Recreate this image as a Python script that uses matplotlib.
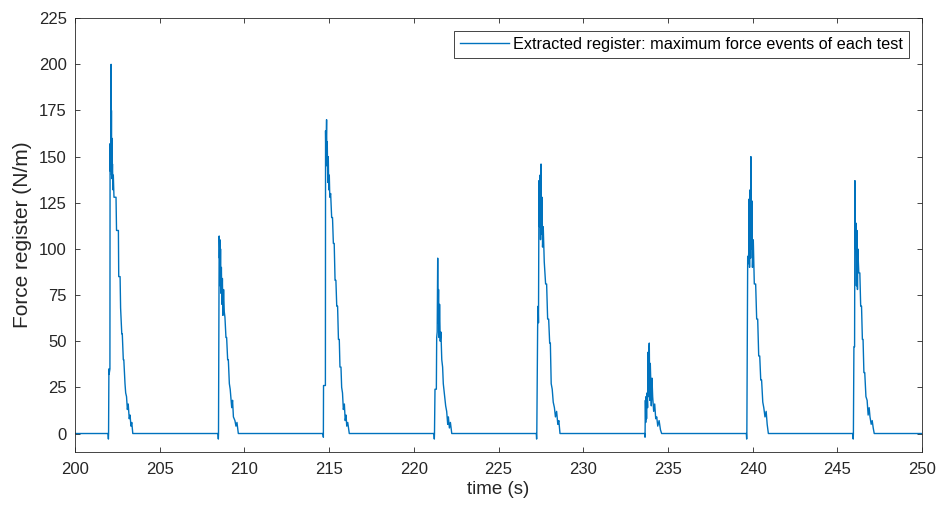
import matplotlib
matplotlib.use("Agg")
import matplotlib.pyplot as plt

plt.rcParams['font.family'] = ['Liberation Sans', 'DejaVu Sans']

# each event: times (s) and force register (N/m)
ev1_t = [201.95, 201.97, 201.98, 202.00, 202.01, 202.06, 202.07, 202.09, 202.10, 202.12,
         202.13, 202.14, 202.15, 202.16, 202.17, 202.19, 202.21, 202.24, 202.26, 202.30,
         202.42, 202.45, 202.56, 202.58, 202.66, 202.69, 202.76, 202.79, 202.85, 202.88,
         202.95, 202.99, 203.04, 203.09, 203.14, 203.20, 203.25, 203.30, 203.35, 203.41]
ev1_f = [0, -3, 0, 35, 32, 35, 157, 142, 157, 150,
         200, 150, 175, 140, 160, 138, 146, 132, 140, 128,
         128, 110, 110, 85, 85, 68, 54, 54, 40, 40,
         27, 22, 20, 13, 16, 8, 10, 4, 6, 0]

ev2_t = [208.44, 208.46, 208.47, 208.51, 208.53, 208.55, 208.57, 208.59, 208.61, 208.64,
         208.67, 208.70, 208.73, 208.77, 208.81, 208.85, 208.91, 208.95, 209.01, 209.05,
         209.11, 209.16, 209.25, 209.30, 209.35, 209.44, 209.50, 209.56, 209.64]
ev2_f = [0, -3, 0, 107, 95, 105, 80, 100, 76, 90,
         70, 84, 64, 78, 66, 63, 52, 52, 40, 40,
         27, 24, 14, 18, 9, 7, 4, 6, 0]

ev3_t = [214.64, 214.66, 214.67, 214.78, 214.79, 214.81, 214.83, 214.85, 214.87, 214.89,
         214.92, 214.95, 214.98, 215.01, 215.04, 215.09, 215.15, 215.20, 215.25, 215.30,
         215.35, 215.40, 215.45, 215.50, 215.55, 215.60, 215.64, 215.70, 215.74, 215.79,
         215.84, 215.90, 215.95, 216.00, 216.04, 216.10, 216.19]
ev3_f = [0, -2, 26, 26, 164, 148, 160, 170, 145, 158,
         136, 150, 132, 140, 128, 130, 117, 117, 103, 103,
         83, 83, 69, 69, 51, 51, 36, 36, 25, 22,
         13, 16, 7, 10, 4, 6, 0]

ev4_t = [221.19, 221.21, 221.22, 221.25, 221.33, 221.35, 221.38, 221.41, 221.43, 221.46,
         221.49, 221.52, 221.56, 221.60, 221.65, 221.70, 221.74, 221.80, 221.88, 221.94,
         222.00, 222.04, 222.10, 222.16, 222.24]
ev4_f = [0, -3, 0, 24, 24, 52, 55, 95, 60, 78,
         52, 70, 50, 55, 40, 36, 27, 22, 15, 12,
         5, 9, 3, 6, 0]

ev5_t = [227.23, 227.25, 227.26, 227.31, 227.34, 227.36, 227.39, 227.42, 227.45, 227.48,
         227.51, 227.54, 227.57, 227.60, 227.64, 227.70, 227.78, 227.84, 227.90, 227.96,
         228.02, 228.06, 228.11, 228.17, 228.23, 228.30, 228.36, 228.43, 228.50, 228.56,
         228.63]
ev5_f = [0, -3, 0, 58, 69, 60, 137, 112, 140, 105,
         146, 108, 128, 101, 112, 93, 81, 81, 62, 62,
         49, 49, 27, 24, 17, 14, 9, 12, 5, 7,
         0]

ev6_t = [233.63, 233.65, 233.67, 233.69, 233.71, 233.74, 233.77, 233.80, 233.82, 233.85,
         233.88, 233.90, 233.93, 233.96, 233.99, 234.02, 234.06, 234.10, 234.16, 234.22,
         234.28, 234.34, 234.40, 234.48, 234.56, 234.63]
ev6_f = [0, -2, 18, 6, 20, 8, 22, 14, 44, 20,
         46, 49, 18, 38, 28, 15, 30, 20, 12, 16,
         8, 9, 4, 7, 2, 0]

ev7_t = [239.63, 239.65, 239.66, 239.71, 239.74, 239.77, 239.79, 239.82, 239.85, 239.88,
         239.90, 239.93, 239.96, 239.99, 240.04, 240.10, 240.18, 240.24, 240.30, 240.36,
         240.42, 240.48, 240.53, 240.60, 240.66, 240.73, 240.80, 240.86, 240.93]
ev7_f = [0, -3, 0, 96, 92, 98, 127, 90, 132, 95,
         150, 100, 126, 90, 105, 81, 81, 62, 62, 42,
         42, 29, 29, 17, 14, 9, 12, 5, 0]

ev8_t = [245.92, 245.94, 245.95, 245.98, 246.02, 246.04, 246.07, 246.10, 246.13, 246.16,
         246.19, 246.21, 246.27, 246.33, 246.38, 246.43, 246.48, 246.52, 246.57, 246.62,
         246.69, 246.76, 246.82, 246.88, 246.93, 247.00, 247.06, 247.12, 247.18]
ev8_f = [0, -3, 0, 47, 47, 137, 100, 114, 80, 110,
         78, 100, 87, 87, 69, 69, 51, 51, 33, 33,
         20, 18, 10, 14, 9, 5, 7, 3, 0]

events_t = [ev1_t, ev2_t, ev3_t, ev4_t, ev5_t, ev6_t, ev7_t, ev8_t]
events_f = [ev1_f, ev2_f, ev3_f, ev4_f, ev5_f, ev6_f, ev7_f, ev8_f]

t_start, t_end = 200, 250

time = [t_start]
force = [0]
for et, ef in zip(events_t, events_f):
    time += et
    force += ef
time.append(t_end)
force.append(0)

fig = plt.figure(figsize=(9.39, 5.05), dpi=100)
ax = fig.add_axes([0.0799, 0.105, 0.902, 0.859])
ax.plot(time, force, color='#0072BD', linewidth=1.0,
        label="Extracted register: maximum force events of each test")

ax.set_xlim(200, 250)
ax.set_ylim(-10, 225)
ax.set_xticks(range(200, 251, 5))
ax.set_yticks(range(0, 226, 25))
ax.set_xlabel("time (s)", fontsize=13.5, color='#262626', labelpad=3)
ax.set_ylabel("Force register (N/m)", fontsize=15, color='#262626', labelpad=5)
ax.tick_params(direction='in', top=True, right=True, labelsize=12,
               colors='#262626', length=3.6, width=0.6)
ax.tick_params(axis='x', pad=7)
ax.tick_params(axis='y', pad=6)
for s in ax.spines.values():
    s.set_color('#262626')
    s.set_linewidth(0.6)

leg = ax.legend(loc='upper right', fontsize=11.7, fancybox=False, framealpha=1,
                handlelength=3.0, handletextpad=0.3, borderaxespad=0.8, borderpad=0.35)
leg.get_frame().set_edgecolor('#262626')
leg.get_frame().set_linewidth(0.6)

fig.savefig("out.png", dpi=100)
